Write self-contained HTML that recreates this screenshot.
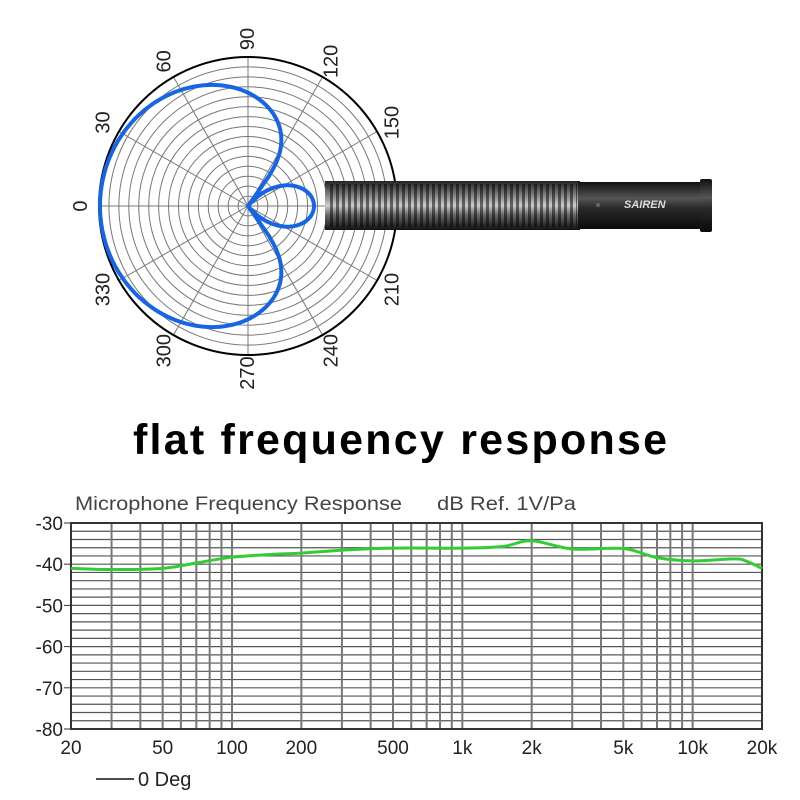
<!DOCTYPE html>
<html><head><meta charset="utf-8"><style>
html,body{margin:0;padding:0;background:#fff;width:800px;height:800px;overflow:hidden}
svg{display:block}
</style></head><body>
<svg id="s" width="800" height="800" xmlns="http://www.w3.org/2000/svg" font-family="Liberation Sans, sans-serif">
<g id="polar"></g>
<defs>
<linearGradient id="gr" x1="0" y1="0" x2="0" y2="1">
<stop offset="0" stop-color="#222"/><stop offset="0.3" stop-color="#888"/><stop offset="0.5" stop-color="#ccc"/><stop offset="0.7" stop-color="#666"/><stop offset="1" stop-color="#111"/></linearGradient>
<linearGradient id="hb" x1="0" y1="0" x2="0" y2="1">
<stop offset="0" stop-color="#111"/><stop offset="0.35" stop-color="#555"/><stop offset="0.55" stop-color="#2a2a2a"/><stop offset="1" stop-color="#0a0a0a"/></linearGradient>
<pattern id="st" width="6" height="60" patternUnits="userSpaceOnUse"><rect width="3" height="60" fill="#000" opacity="0.5"/></pattern>
</defs>
<rect x="325" y="181" width="255" height="49" fill="url(#gr)"/>
<rect x="327" y="184" width="250" height="43" fill="url(#st)"/>
<rect x="578" y="182" width="124" height="47" fill="url(#hb)"/>
<rect x="700" y="179" width="12" height="53" rx="2" fill="url(#hb)"/>
<circle cx="598" cy="205" r="2" fill="#666"/>
<text x="624" y="208" font-size="11" fill="#ddd" font-style="italic" font-weight="bold">SAIREN</text>
<text x="400" y="454" text-anchor="middle" font-size="43" font-weight="bold" textLength="534" lengthAdjust="spacing" fill="#000">flat frequency response</text>
<g id="freq"></g>
</svg>
<script>
var NS="http://www.w3.org/2000/svg";
function el(p,t,a,txt){var e=document.createElementNS(NS,t);for(var k in a)e.setAttribute(k,a[k]);if(txt!==undefined)e.textContent=txt;p.appendChild(e);return e;}
var P=document.getElementById('polar');
var cx=248,cy=206,R=149;
for(var i=1;i<=15;i++){el(P,'circle',{cx:cx,cy:cy,r:R*i/15,fill:'none',stroke:'#777','stroke-width':1});}
for(var a=0;a<360;a+=30){var t=a*Math.PI/180;el(P,'line',{x1:cx,y1:cy,x2:cx-R*Math.cos(t),y2:cy-R*Math.sin(t),stroke:'#777','stroke-width':1});}
el(P,'circle',{cx:cx,cy:cy,r:R,fill:'none',stroke:'#000','stroke-width':2});
for(var a=0;a<360;a+=30){var t=a*Math.PI/180,rr=R+18;var x=cx-rr*Math.cos(t),y=cy-rr*Math.sin(t);
 el(P,'text',{x:x,y:y,'font-size':20,fill:'#222','text-anchor':'middle','dominant-baseline':'central',transform:'rotate(-90 '+x+' '+y+')'},String(a));}
function rf(th){var d=Math.abs(th);if(d<=126){return (R-1)*Math.pow(Math.max(Math.cos(d*Math.PI/180*90/126),0),0.32);}
 var e=180-d;return 66*Math.pow(Math.max(Math.cos(e*Math.PI/180*90/50),0),0.9);}
var pts=[];for(var th=-180;th<=180;th+=1){var r=rf(th),t=th*Math.PI/180;pts.push((cx-r*Math.cos(t)).toFixed(1)+','+(cy-r*Math.sin(t)).toFixed(1));}
el(P,'polyline',{points:pts.join(' '),fill:'none',stroke:'#1565e6','stroke-width':4,'stroke-linejoin':'round'});
var F=document.getElementById('freq');
var x0=71,x1=762,y0=523,y1=729;
function fx(f){return x0+(x1-x0)*Math.log10(f/20)/3;}
function dy(d){return y0+(-30-d)*(y1-y0)/50;}
for(var d=-30;d>=-80;d-=2){el(F,'line',{x1:x0,x2:x1,y1:dy(d),y2:dy(d),stroke:'#555','stroke-width':1.2});}
var fs=[];[10,100,1000,10000].forEach(function(m){for(var k=1;k<10;k++)fs.push(m*k);});fs.push(20000);
fs.forEach(function(f){if(f>=20&&f<=20000)el(F,'line',{x1:fx(f),x2:fx(f),y1:y0,y2:y1,stroke:'#777','stroke-width':2});});
el(F,'rect',{x:x0,y:y0,width:x1-x0,height:y1-y0,fill:'none',stroke:'#333','stroke-width':2});
for(var d=-30;d>=-80;d-=10){el(F,'text',{x:63,y:dy(d)+7,'font-size':19,fill:'#222','text-anchor':'end'},String(d));el(F,'line',{x1:64,x2:x0,y1:dy(d),y2:dy(d),stroke:'#333'});}
[[20,'20'],[50,'50'],[100,'100'],[200,'200'],[500,'500'],[1000,'1k'],[2000,'2k'],[5000,'5k'],[10000,'10k'],[20000,'20k']].forEach(function(p){
 el(F,'text',{x:fx(p[0]),y:754,'font-size':19,fill:'#222','text-anchor':'middle'},p[1]);});
el(F,'text',{x:75,y:510,'font-size':19,fill:'#444',textLength:327,lengthAdjust:'spacingAndGlyphs'},'Microphone Frequency Response');
el(F,'text',{x:437,y:510,'font-size':19,fill:'#444',textLength:139,lengthAdjust:'spacingAndGlyphs'},'dB Ref. 1V/Pa');
el(F,'line',{x1:96,x2:134,y1:779,y2:779,stroke:'#111','stroke-width':1.5});
el(F,'text',{x:138,y:786,'font-size':20,fill:'#222'},'0 Deg');
var cp=[[20,-41],[30,-41.3],[50,-41],[70,-39.7],[100,-38.3],[150,-37.6],[200,-37.3],[300,-36.6],[500,-36.1],[1000,-36.1],[1500,-35.7],[2000,-34.3],[3000,-36.3],[5000,-36.2],[7000,-38.4],[10000,-39.2],[15000,-38.7],[17000,-39.2],[20000,-41]];
var P2=cp.map(function(p){return [fx(p[0]),dy(p[1])];});var path='M'+P2[0][0]+','+P2[0][1];
for(var i=0;i<P2.length-1;i++){var p0=P2[Math.max(i-1,0)],p1=P2[i],p2=P2[i+1],p3=P2[Math.min(i+2,P2.length-1)];
 path+=' C'+(p1[0]+(p2[0]-p0[0])/6)+','+(p1[1]+(p2[1]-p0[1])/6)+' '+(p2[0]-(p3[0]-p1[0])/6)+','+(p2[1]-(p3[1]-p1[1])/6)+' '+p2[0]+','+p2[1];}
el(F,'path',{d:path,fill:'none',stroke:'#33cc33','stroke-width':3});
</script>
</body></html>
